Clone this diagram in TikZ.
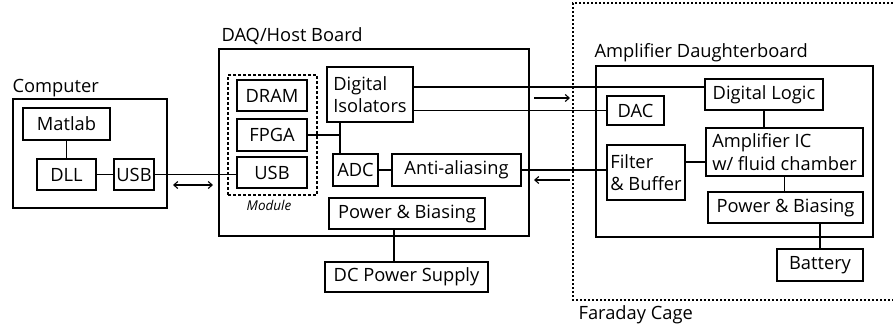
\documentclass[tikz,border=0pt]{standalone}
\usepackage{fontspec}
\setmainfont{Open Sans}
\usetikzlibrary{arrows.meta}

\begin{document}
\begin{tikzpicture}[x=1pt,y=-1pt,line width=1.1pt,font=\fontsize{18.3}{22.5}\selectfont,
  blk/.style={draw,inner sep=0pt,align=left},
  grp/.style={draw,inner sep=0pt},
  lbl/.style={anchor=base west,inner sep=0pt},
  arr/.style={{Straight Barb[length=4pt,width=7pt]}-{Straight Barb[length=4pt,width=7pt]}}]
\useasboundingbox (0,0) rectangle (893,330);
% computer
\node[grp,minimum width=154,minimum height=109] (comp) at (90,153.5) {};
\node[lbl] (complbl) at (12,92) {Computer};
\node[blk,minimum width=87,minimum height=32] (matlab) at (66.5,124) {Matlab};
\node[blk,minimum width=59,minimum height=31] (dll) at (66.5,174.5) {DLL};
\node[blk,minimum width=40,minimum height=31] (usbc) at (134,174.5) {USB};
% host board
\node[grp,minimum width=310,minimum height=187] (host) at (374,142.5) {};
\node[lbl] (hostlbl) at (221,41) {DAQ/Host Board};
\node[grp,densely dashed,minimum width=89,minimum height=120] (module) at (272.5,135) {};
\node[font=\fontsize{13.5}{14}\selectfont\itshape] (modlbl) at (269,205) {Module};
\node[blk,minimum width=70,minimum height=31] (dram) at (272,95.5) {DRAM};
\node[blk,minimum width=70,minimum height=32] (fpga) at (272,135) {FPGA};
\node[blk,minimum width=70,minimum height=31] (usbh) at (272,172.5) {USB};
\node[blk,minimum width=86,minimum height=55] (iso) at (370,94.5) {Digital\\Isolators};
\node[blk,minimum width=45,minimum height=32] (adc) at (355.5,170) {ADC};
\node[blk,minimum width=129,minimum height=32] (anti) at (456.5,170) {Anti-aliasing};
\node[blk,minimum width=156,minimum height=31] (pbh) at (407,213.5) {Power \& Biasing};
\node[blk,minimum width=163,minimum height=30] (dc) at (406.5,277) {DC Power Supply};
% faraday cage
\draw[dash pattern=on 2pt off 2pt] (893,3) -| (573,300) -- (893,300);
\node[lbl] (cagelbl) at (578,319) {Faraday Cage};
% amplifier board
\node[grp,minimum width=277,minimum height=171] (amp) at (734.5,151.5) {};
\node[lbl] (amplbl) at (594,57) {Amplifier Daughterboard};
\node[blk,minimum width=118,minimum height=31] (logic) at (764,94.5) {Digital Logic};
\node[blk,minimum width=57,minimum height=29] (dac) at (635.5,110.5) {DAC};
\node[blk,minimum width=157,minimum height=48] (ampic) at (784.5,152) {Amplifier IC\\w/ fluid chamber};
\node[blk,minimum width=78,minimum height=55] (filt) at (646,172.5) {Filter\\\& Buffer};
\node[blk,minimum width=155,minimum height=31] (pba) at (785.5,207.5) {Power \& Biasing};
\node[blk,minimum width=86,minimum height=32] (batt) at (820,265) {Battery};
% links
\coordinate (bus) at (340,135);
\draw (matlab.south) -- (dll.north);
\draw (dll) -- (usbc);
\draw (usbc.east) -- (usbc.east -| usbh.west);
\draw (fpga.east) -- (bus);
\draw (bus |- iso.south) -- (bus |- adc.north);
\draw (adc) -- (anti);
\draw (anti.east) -- (anti.east -| filt.west);
\draw ([yshift=7.5pt]iso.east) -- ([yshift=7.5pt]logic.west);
\draw (iso.east |- dac.west) -- (dac.west);
\draw ([xshift=-13pt]pbh.south) -- ([xshift=-13pt]pbh.south |- dc.north);
\draw (logic.south) -- (logic.south |- ampic.north);
\draw ([yshift=-10pt]ampic.west) -- ([yshift=-10pt]ampic.west -| filt.east);
\draw (ampic.south) -- (ampic.south |- pba.north);
\draw (batt.north) -- (batt.north |- pba.south);
% signal arrows
\coordinate (ua) at (173,185); \coordinate (ub) at (213,185);
\coordinate (ra) at (534,98);  \coordinate (rb) at (570,98);
\coordinate (la) at (534,180); \coordinate (lb) at (570,180);
\draw[arr] (ua) -- (ub);
\draw[-{Straight Barb[length=4pt,width=7pt]}] (ra) -- (rb);
\draw[{Straight Barb[length=4pt,width=7pt]}-] (la) -- (lb);
\end{tikzpicture}
\end{document}
